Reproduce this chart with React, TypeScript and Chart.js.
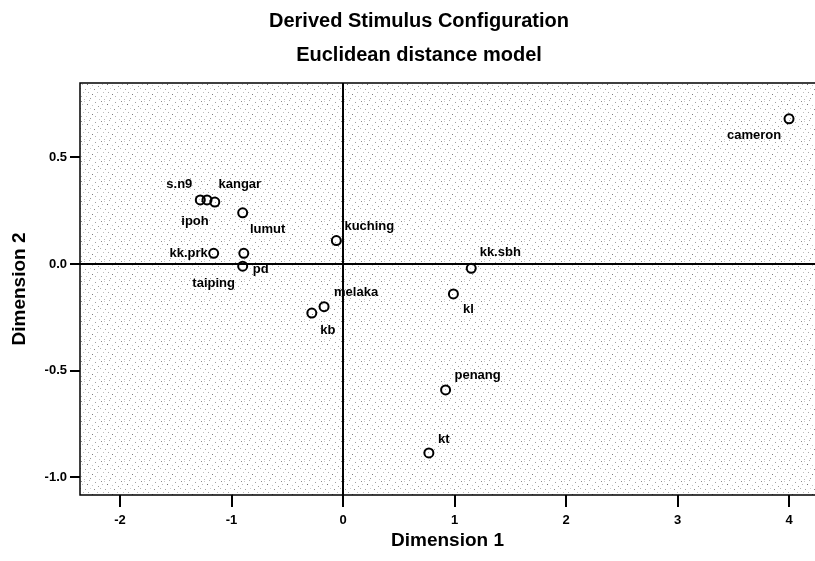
import React, { useEffect, useRef } from "react";
import { Chart, registerables } from "chart.js";

Chart.register(...registerables);

const names = ["cameron", "s.n9", "ipoh", "kangar", "lumut", "kuching", "kk.prk", "pd", "taiping", "kk.sbh", "kl", "melaka", "kb", "penang", "kt"];
const dim1 = [4.0, -1.28, -1.22, -1.15, -0.90, -0.06, -1.16, -0.89, -0.90, 1.15, 0.99, -0.17, -0.28, 0.92, 0.77];
const dim2 = [0.68, 0.30, 0.30, 0.29, 0.24, 0.11, 0.05, 0.05, -0.01, -0.02, -0.14, -0.20, -0.23, -0.59, -0.885];
const xTicks = [-2, -1, 0, 1, 2, 3, 4];
const yTicks = [-1.0, -0.5, 0.0, 0.5];
const titleLines = ["Derived Stimulus Configuration", "Euclidean distance model"];

// label offsets (text centre relative to point, px)
const labelOffsets: Record<string, [number, number]> = {
  cameron: [-35, 17],
  "s.n9": [-21, -16],
  ipoh: [-12, 21],
  kangar: [25, -18],
  lumut: [25, 17],
  kuching: [33, -14],
  "kk.prk": [-25, 0],
  pd: [17, 16],
  taiping: [-29, 17],
  "kk.sbh": [29, -16],
  kl: [15, 16],
  melaka: [32, -14],
  kb: [16, 17],
  penang: [32, -15],
  kt: [15, -14],
};

const FONT = "'Liberation Sans', Arial, sans-serif";

function makePattern(): CanvasPattern | string {
  const c = document.createElement("canvas");
  const N = 20;
  c.width = N;
  c.height = N;
  const g = c.getContext("2d");
  if (!g) return "#f4f4f4";
  g.fillStyle = "#ffffff";
  g.fillRect(0, 0, N, N);
  const dots: [number, number, string][] = [
    [1, 1, "#8c8c8c"], [4, 1, "#c8c8c8"], [9, 0, "#b0b0b0"], [15, 2, "#a0a0a0"],
    [2, 4, "#bcbcbc"], [7, 4, "#6e6e6e"], [12, 5, "#c4c4c4"], [18, 6, "#9c9c9c"],
    [0, 8, "#b4b4b4"], [5, 9, "#a2a2a2"], [10, 8, "#cfcfcf"], [14, 9, "#8a8a8a"],
    [3, 12, "#c0c0c0"], [8, 12, "#a8a8a8"], [17, 12, "#bcbcbc"], [12, 14, "#7c7c7c"],
    [1, 16, "#a6a6a6"], [6, 16, "#c8c8c8"], [15, 16, "#b2b2b2"], [10, 18, "#9a9a9a"],
    [19, 19, "#c2c2c2"], [4, 19, "#b8b8b8"],
  ];
  dots.forEach(([x, y, col]) => {
    g.fillStyle = col;
    g.fillRect(x, y, 1, 1);
  });
  const p = g.createPattern(c, "repeat");
  return p || "#f4f4f4";
}

export default function App() {
  const ref = useRef<HTMLCanvasElement | null>(null);

  useEffect(() => {
    document.body.style.margin = "0";
    const canvas = ref.current;
    if (!canvas) return;
    const pattern = makePattern();

    const bgPlugin = {
      id: "bgPlugin",
      beforeDraw(chart: any) {
        const { ctx, chartArea: a } = chart;
        ctx.save();
        ctx.fillStyle = "#ffffff";
        ctx.fillRect(0, 0, chart.width, chart.height);
        ctx.fillStyle = pattern;
        ctx.fillRect(a.left, a.top, chart.width - a.left, a.bottom - a.top);
        ctx.restore();
      },
      afterDraw(chart: any) {
        const { ctx, chartArea: a } = chart;
        ctx.save();
        ctx.strokeStyle = "#000";
        ctx.lineWidth = 1.5;
        ctx.beginPath();
        ctx.moveTo(chart.width, a.top);
        ctx.lineTo(a.left, a.top);
        ctx.lineTo(a.left, a.bottom);
        ctx.lineTo(chart.width, a.bottom);
        ctx.stroke();
        ctx.fillStyle = "#000";
        ctx.textAlign = "center";
        ctx.textBaseline = "middle";
        ctx.font = `bold 20px ${FONT}`;
        ctx.fillText(titleLines[0], 419, 21);
        ctx.fillText(titleLines[1], 419, 55);
        ctx.restore();
      },
    };

    const labelPlugin = {
      id: "labelPlugin",
      afterDatasetsDraw(chart: any) {
        const { ctx } = chart;
        const meta = chart.getDatasetMeta(0);
        ctx.save();
        ctx.fillStyle = "#000";
        ctx.font = `bold 13px ${FONT}`;
        ctx.textAlign = "center";
        ctx.textBaseline = "middle";
        meta.data.forEach((el: any, i: number) => {
          const off = labelOffsets[names[i]] || [10, -10];
          ctx.fillText(names[i], el.x + off[0], el.y + off[1]);
        });
        ctx.restore();
      },
    };

    const zeroGrid = {
      drawOnChartArea: true,
      color: (c: any) => (c.tick && c.tick.value === 0 ? "#000" : "rgba(0,0,0,0)"),
      lineWidth: 2,
      tickColor: "#000",
      tickWidth: 2,
    };

    const chart = new Chart(canvas, {
      type: "scatter",
      data: {
        datasets: [
          {
            data: dim1.map((x, i) => ({ x, y: dim2[i] })),
            pointRadius: 4.5,
            pointHoverRadius: 4.5,
            pointBorderWidth: 2,
            pointBorderColor: "#000",
            pointBackgroundColor: "rgba(0,0,0,0)",
          },
        ],
      },
      options: {
        animation: false,
        responsive: true,
        maintainAspectRatio: false,
        layout: { autoPadding: false, padding: { top: 83, right: 0, left: 0, bottom: 0 } },
        plugins: {
          legend: { display: false },
          tooltip: { enabled: false },
          title: { display: false },
        },
        scales: {
          x: {
            type: "linear",
            min: -2.359,
            max: 4.233,
            afterBuildTicks: (s: any) => {
              s.ticks = xTicks.map((v) => ({ value: v }));
            },
            afterFit: (s: any) => {
              s.height = 66;
              s.paddingLeft = 0;
              s.paddingRight = 0;
            },
            border: { display: false },
            grid: { ...zeroGrid, tickLength: 12 },
            ticks: {
              color: "#000",
              font: { family: FONT, size: 13, weight: "bold" },
              padding: 6,
              maxRotation: 0,
              callback: (v: any) => String(v),
            },
            title: {
              display: true,
              text: "Dimension 1",
              color: "#000",
              font: { family: FONT, size: 19, weight: "bold" },
              padding: { top: 0, bottom: 9 },
            },
          },
          y: {
            type: "linear",
            min: -1.082,
            max: 0.848,
            afterBuildTicks: (s: any) => {
              s.ticks = yTicks.map((v) => ({ value: v }));
            },
            afterFit: (s: any) => {
              s.width = 80;
              s.paddingTop = 0;
              s.paddingBottom = 0;
            },
            border: { display: false },
            grid: { ...zeroGrid, tickLength: 10 },
            ticks: {
              color: "#000",
              font: { family: FONT, size: 13, weight: "bold" },
              padding: 3,
              callback: (v: any) => Number(v).toFixed(1),
            },
            title: {
              display: true,
              text: "Dimension 2",
              color: "#000",
              font: { family: FONT, size: 19, weight: "bold" },
              padding: { top: 8, bottom: 0 },
            },
          },
        },
      },
      plugins: [bgPlugin, labelPlugin],
    });

    return () => chart.destroy();
  }, []);

  return (
    <div style={{ width: 815, height: 561, position: "relative" }}>
      <canvas ref={ref} />
    </div>
  );
}
